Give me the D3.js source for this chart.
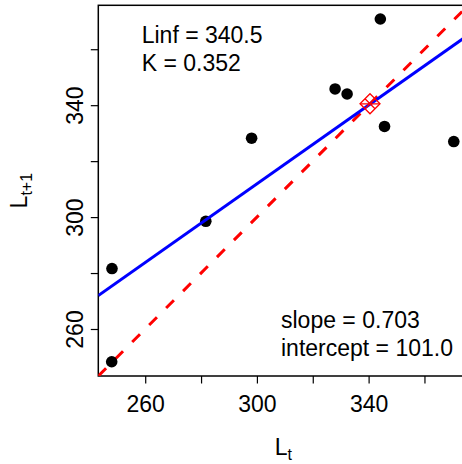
<!DOCTYPE html>
<html>
<head>
<meta charset="utf-8">
<script src="https://cdn.jsdelivr.net/npm/d3@7"></script>
<style>
  body { margin: 0; background: #fff; }
  svg { display: block; font-family: "Liberation Sans", Arial, sans-serif; }
</style>
</head>
<body>
<div id="mainDiv"></div>
<script>
'use strict';

// dados (Walford plot)
var lenT  = [248.1, 248.0, 281.7, 298.1, 328.0, 332.3, 344.2, 345.7, 370.5];
var lenT1 = [281.6, 248.3, 298.5, 328.2, 345.8, 344.0, 370.8, 332.4, 327.0];
var axisTicks = [260, 280, 300, 320, 340, 360];
var tickLabels = [260, 300, 340];
var fit = {slope: 0.703, intercept: 101.0};
var linf = 340.5;
var kVal = 0.352;
var axisDomain = [243.2, 375.7];

var chart = {};
chart.w = 462;
chart.h = 464;
chart.box = {left: 98.3, right: 468.3, top: 5.3, bottom: 376};
chart.font = 23;

var svg = d3.select('#mainDiv').append('svg')
    .attr('width', chart.w)
    .attr('height', chart.h);

var x = d3.scaleLinear().domain(axisDomain).range([chart.box.left, chart.box.right]);
var y = d3.scaleLinear().domain(axisDomain).range([chart.box.bottom, chart.box.top]);

var fmt = function(d) { return tickLabels.indexOf(d) >= 0 ? d : ''; };

// eixos
var xAxisGroup = svg.append('g')
    .attr('transform', 'translate(0,' + chart.box.bottom + ')')
    .call(d3.axisBottom(x).tickValues(axisTicks).tickFormat(fmt).tickSize(7.5).tickPadding(4));

var yAxisGroup = svg.append('g')
    .attr('transform', 'translate(' + chart.box.left + ',0)')
    .call(d3.axisLeft(y).tickValues(axisTicks).tickFormat(fmt).tickSize(7.5));

[xAxisGroup, yAxisGroup].forEach(function(g) {
    g.select('.domain').remove();
    g.selectAll('line').attr('stroke', '#000').attr('stroke-width', 1.2);
    g.selectAll('text')
        .attr('font-size', chart.font)
        .attr('font-family', '"Liberation Sans", Arial, sans-serif')
        .attr('fill', '#000');
});

xAxisGroup.selectAll('text').attr('dy', null).attr('y', 36);

yAxisGroup.selectAll('text')
    .attr('x', null).attr('dy', null)
    .attr('text-anchor', 'middle')
    .attr('transform', 'translate(-15.5,0) rotate(-90)');

// caixa do gráfico
svg.append('rect')
    .attr('x', chart.box.left)
    .attr('y', chart.box.top)
    .attr('width', chart.box.right - chart.box.left)
    .attr('height', chart.box.bottom - chart.box.top)
    .attr('fill', 'none')
    .attr('stroke', '#000')
    .attr('stroke-width', 1.5);

var plot = svg.append('g');
svg.append('clipPath').attr('id', 'clip').append('rect')
    .attr('x', chart.box.left)
    .attr('y', chart.box.top)
    .attr('width', chart.box.right - chart.box.left)
    .attr('height', chart.box.bottom - chart.box.top);
plot.attr('clip-path', 'url(#clip)');

// linha 1:1
plot.append('line')
    .attr('x1', x(axisDomain[0])).attr('y1', y(axisDomain[0]))
    .attr('x2', x(axisDomain[1])).attr('y2', y(axisDomain[1]))
    .attr('stroke', '#ff0000')
    .attr('stroke-width', 3)
    .attr('stroke-dasharray', '11,13');

// pontos
plot.selectAll('circle.pt')
    .data(lenT)
    .enter()
    .append('circle')
    .attr('class', 'pt')
    .attr('cx', function(d) { return x(d); })
    .attr('cy', function(d, i) { return y(lenT1[i]); })
    .attr('r', 5.8)
    .attr('fill', '#000');

// regressão
plot.append('line')
    .attr('x1', x(axisDomain[0])).attr('y1', y(fit.intercept + fit.slope * axisDomain[0]))
    .attr('x2', x(axisDomain[1])).attr('y2', y(fit.intercept + fit.slope * axisDomain[1]))
    .attr('stroke', '#0000ff')
    .attr('stroke-width', 3);

// Linf (diamante)
var cx = x(linf), cy = y(linf), s = 10;
var mk = plot.append('g').attr('stroke', '#ff0000').attr('stroke-width', 1.3).attr('fill', 'none');
mk.append('path')
    .attr('d', 'M' + cx + ',' + (cy - s) + 'L' + (cx + s) + ',' + cy + 'L' + cx + ',' + (cy + s) + 'L' + (cx - s) + ',' + cy + 'Z');
mk.append('path')
    .attr('d', 'M' + (cx - s) + ',' + cy + 'L' + (cx + s) + ',' + cy +
               'M' + (cx - s / 2) + ',' + (cy - s / 2) + 'L' + (cx + s / 2) + ',' + (cy + s / 2) +
               'M' + (cx + s / 2) + ',' + (cy - s / 2) + 'L' + (cx - s / 2) + ',' + (cy + s / 2));

// textos
function addText(txt, tx, ty) {
    svg.append('text')
        .attr('x', tx).attr('y', ty)
        .attr('font-size', chart.font)
        .attr('fill', '#000')
        .text(txt);
}
addText('Linf = ' + linf.toFixed(1), 141.7, 42.7);
addText('K = ' + kVal.toFixed(3), 141.7, 70.7);
addText('slope = ' + fit.slope.toFixed(3), 281, 327.7);
addText('intercept = ' + fit.intercept.toFixed(1), 281, 356);

// rótulos dos eixos
var xl = svg.append('text')
    .attr('x', (chart.box.left + chart.box.right) / 2)
    .attr('y', 455)
    .attr('text-anchor', 'middle')
    .attr('font-size', chart.font)
    .attr('fill', '#000');
xl.append('tspan').text('L');
xl.append('tspan').attr('font-size', 16).attr('dy', 4.5).text('t');

var yl = svg.append('text')
    .attr('transform', 'translate(27,' + ((chart.box.top + chart.box.bottom) / 2) + ') rotate(-90)')
    .attr('text-anchor', 'middle')
    .attr('font-size', chart.font)
    .attr('fill', '#000');
yl.append('tspan').text('L');
yl.append('tspan').attr('font-size', 16).attr('dy', 4.5).text('t+1');
</script>
</body>
</html>
